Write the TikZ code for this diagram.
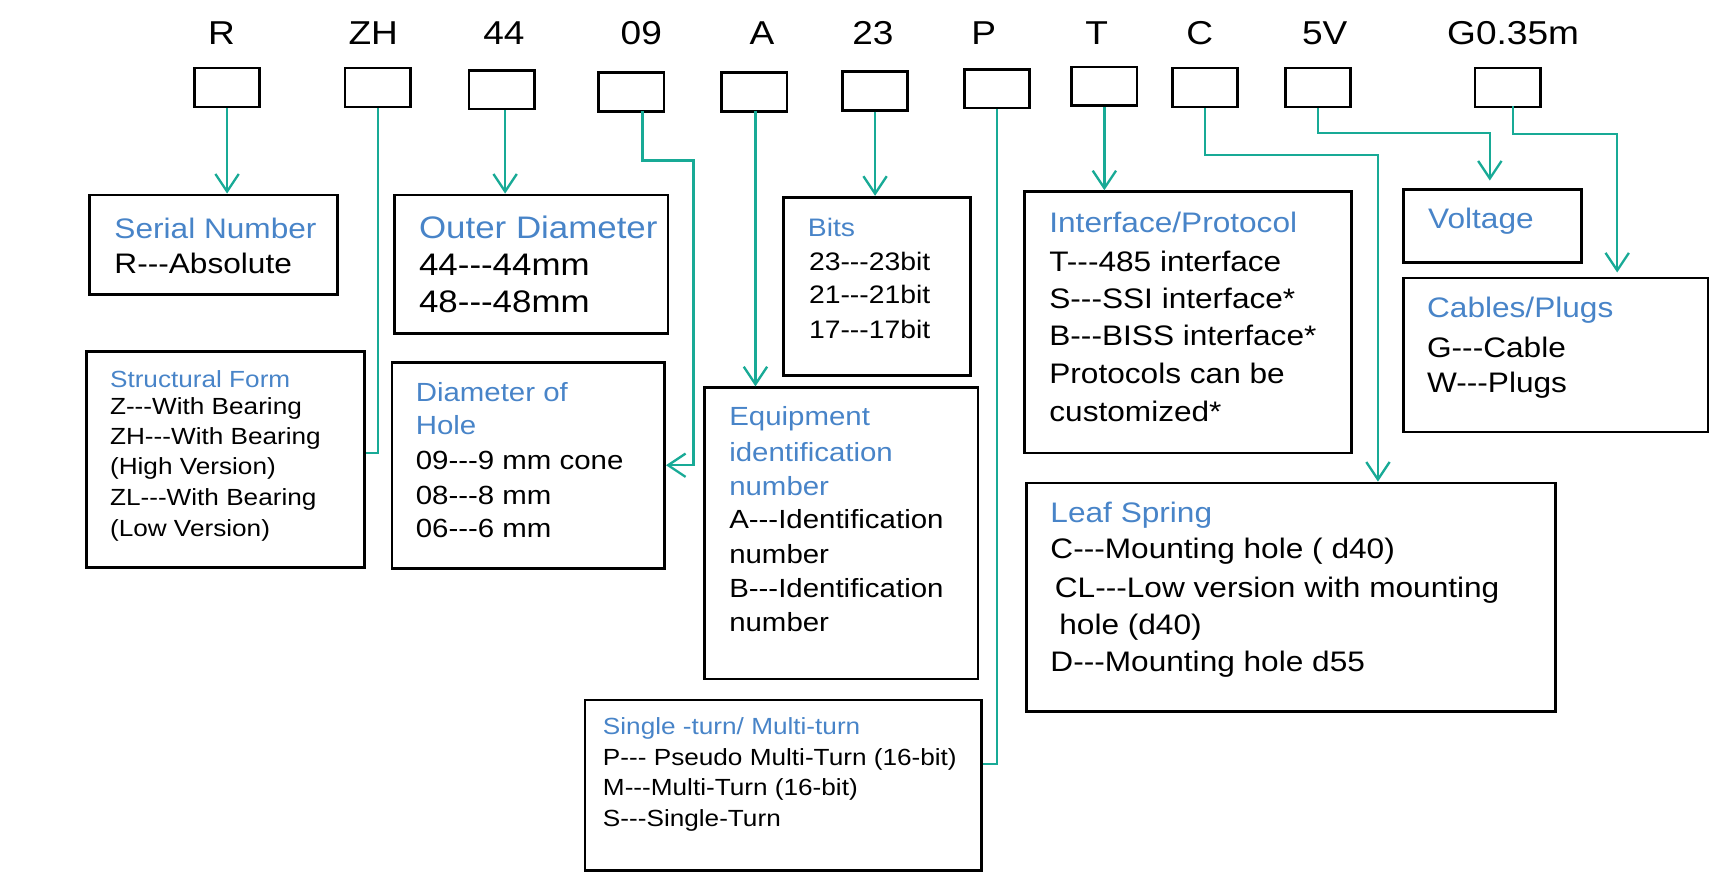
\documentclass[tikz,border=0pt]{standalone}
\usepackage{fontspec}
\setmainfont[Ligatures=NoCommon,FakeStretch=1.12]{Liberation Sans}
\usetikzlibrary{arrows.meta,fit}
\definecolor{linkteal}{RGB}{24,170,150}
\definecolor{titleblue}{RGB}{72,132,200}
\newcommand{\tr}{{-}{-}{-}}
\tikzset{
  code/.style={draw,line width=1.4pt,minimum width=11.8mm,minimum height=7mm,inner sep=0pt},
  box/.style={draw,line width=1.4pt,inner sep=0pt},
  link/.style={linkteal,line width=1.2pt},
  arr/.style={link,-{Straight Barb[length=9pt,width=12pt]}},
  lbl/.style={font=\fontsize{17}{17}\selectfont},
  ttl/.style={anchor=west,text=titleblue,inner sep=0pt,font=\fontsize{14.5}{14.5}\selectfont},
  txt/.style={anchor=west,inner sep=0pt,font=\fontsize{14.5}{14.5}\selectfont},
  stl/.style={ttl,font=\fontsize{12}{12}\selectfont},
  stx/.style={txt,font=\fontsize{12}{12}\selectfont},
}
\begin{document}
\begin{tikzpicture}[x=0.2mm,y=-0.2mm]
	\useasboundingbox (0,0) rectangle (1560,796);

	% Kennzeichen oben
	\node[lbl] (lr) at (200,30) {R};
	\node[lbl] (lzh) at (337,30) {ZH};
	\node[lbl] (l44) at (455,30) {44};
	\node[lbl] (l09) at (579,30) {09};
	\node[lbl] (la) at (688,30) {A};
	\node[lbl] (l23) at (788,30) {23};
	\node[lbl] (lp) at (888,30) {P};
	\node[lbl] (lt) at (990,30) {T};
	\node[lbl] (lc) at (1083,30) {C};
	\node[lbl] (l5v) at (1196,30) {5V};
	\node[lbl] (lg) at (1366,30) {G0.35m};

	% Kaestchen
	\node[code] (br) at (205,79) {};
	\node[code] (bzh) at (341,79) {};
	\node[code] (b44) at (453,81) {};
	\node[code] (b09) at (570,83) {};
	\node[code] (ba) at (681,83) {};
	\node[code] (b23) at (790,82) {};
	\node[code] (bp) at (900,80) {};
	\node[code] (bt) at (997,78) {};
	\node[code] (bc) at (1088,79) {};
	\node[code] (b5v) at (1190,79) {};
	\node[code] (bg) at (1361,79) {};

	% Beschreibungen
	\node[box,fit={(81,176)(305,266)}] (serial) {};
	\node[ttl] (serial1) at (103,206) {Serial Number};
	\node[txt] (serial2) at (103,238) {R\tr Absolute};

	\node[box,fit={(356,176)(603,301)}] (outer) {};
	\node[ttl,font=\fontsize{16}{16}\selectfont] (outer1) at (378,205) {Outer Diameter};
	\node[txt,font=\fontsize{16}{16}\selectfont] (outer2) at (378,239) {44\tr 44mm};
	\node[txt,font=\fontsize{16}{16}\selectfont] (outer3) at (378,272) {48\tr 48mm};

	\node[box,fit={(707,178)(876,339)}] (bits) {};
	\node[stl,font=\fontsize{13}{13}\selectfont] (bits1) at (729,205) {Bits};
	\node[stx,font=\fontsize{13}{13}\selectfont] (bits2) at (730,236) {23\tr 23bit};
	\node[stx,font=\fontsize{13}{13}\selectfont] (bits3) at (730,266) {21\tr 21bit};
	\node[stx,font=\fontsize{13}{13}\selectfont] (bits4) at (730,297) {17\tr 17bit};

	\node[box,fit={(925,173)(1220,409)}] (iface) {};
	\node[ttl] (iface1) at (947,201) {Interface/Protocol};
	\node[txt] (iface2) at (947,236) {T\tr 485 interface};
	\node[txt] (iface3) at (947,269) {S\tr SSI interface*};
	\node[txt] (iface4) at (947,303) {B\tr BISS interface*};
	\node[txt] (iface5) at (947,337) {Protocols can be};
	\node[txt] (iface6) at (947,371) {customized*};

	\node[box,fit={(1267,171)(1428,237)}] (volt) {};
	\node[ttl] (volt1) at (1289,200) {Voltage};

	\node[box,fit={(1267,251)(1542,390)}] (cable) {};
	\node[ttl] (cable1) at (1288,280) {Cables/Plugs};
	\node[txt] (cable2) at (1288,314) {G\tr Cable};
	\node[txt] (cable3) at (1288,348) {W\tr Plugs};

	\node[box,fit={(78,317)(329,512)}] (sform) {};
	\node[stl] (sform1) at (99,342) {Structural Form};
	\node[stx] (sform2) at (99,369) {Z\tr With Bearing};
	\node[stx] (sform3) at (99,396) {ZH\tr With Bearing};
	\node[stx] (sform4) at (99,423) {(High Version)};
	\node[stx] (sform5) at (99,451) {ZL\tr With Bearing};
	\node[stx] (sform6) at (99,479) {(Low Version)};

	\node[box,fit={(354,327)(600,513)}] (hole) {};
	\node[ttl,font=\fontsize{13.5}{13.5}\selectfont] (hole1) at (375,354) {Diameter of};
	\node[ttl,font=\fontsize{13.5}{13.5}\selectfont] (hole2) at (375,384) {Hole};
	\node[txt,font=\fontsize{13.5}{13.5}\selectfont] (hole3) at (375,416) {09\tr 9 mm cone};
	\node[txt,font=\fontsize{13.5}{13.5}\selectfont] (hole4) at (375,447) {08\tr 8 mm};
	\node[txt,font=\fontsize{13.5}{13.5}\selectfont] (hole5) at (375,477) {06\tr 6 mm};

	\node[box,fit={(636,350)(883,613)}] (equip) {};
	\node[ttl,font=\fontsize{13.5}{13.5}\selectfont] (equip1) at (658,378) {Equipment};
	\node[ttl,font=\fontsize{13.5}{13.5}\selectfont] (equip2) at (658,408) {identification};
	\node[ttl,font=\fontsize{13.5}{13.5}\selectfont] (equip3) at (658,439) {number};
	\node[txt,font=\fontsize{13.5}{13.5}\selectfont] (equip4) at (658,469) {A\tr Identification};
	\node[txt,font=\fontsize{13.5}{13.5}\selectfont] (equip5) at (658,500) {number};
	\node[txt,font=\fontsize{13.5}{13.5}\selectfont] (equip6) at (658,531) {B\tr Identification};
	\node[txt,font=\fontsize{13.5}{13.5}\selectfont] (equip7) at (658,562) {number};

	\node[box,fit={(927,436)(1404,642)}] (leaf) {};
	\node[ttl] (leaf1) at (948,465) {Leaf Spring};
	\node[txt] (leaf2) at (948,498) {C\tr Mounting hole ( d40)};
	\node[txt] (leaf3) at (952,533) {CL\tr Low version with mounting};
	\node[txt] (leaf4) at (956,566) {hole (d40)};
	\node[txt] (leaf5) at (948,600) {D\tr Mounting hole d55};

	\node[box,fit={(528,632)(886,786)}] (turn) {};
	\node[stl] (turn1) at (544,658) {Single -turn/ Multi-turn};
	\node[stx] (turn2) at (544,686) {P\tr{} Pseudo Multi-Turn (16-bit)};
	\node[stx] (turn3) at (544,713) {M\tr Multi-Turn (16-bit)};
	\node[stx] (turn4) at (544,741) {S\tr Single-Turn};

	% Verbindungen
	\draw[arr] (br.south) -- (serial.north -| br.south);
	\draw[link] (bzh.south) -- (341,409) -- (sform.east |- 0,409);
	\draw[arr] (b44.south -| 456,0) -- (outer.north -| 456,0);
	\draw[arr] (580,100) -- (580,145) -- (626,145) |- (hole.east);
	\draw[arr] (682,100) -- (equip.north -| 682,0);
	\draw[arr] (b23.south) -- (bits.north -| b23.south);
	\draw[link] (bp.south) -- (900,690) -- (turn.east |- 0,690);
	\draw[arr] (bt.south) -- (iface.north -| bt.south);
	\draw[arr] (bc.south) -- (1088,140) -| (leaf.north -| 1244,0);
	\draw[arr] (b5v.south) -- (1190,120) -| (1345,163);
	\draw[arr] (1366,96) -- (1366,121) -| (1460,246);

\end{tikzpicture}
\end{document}
